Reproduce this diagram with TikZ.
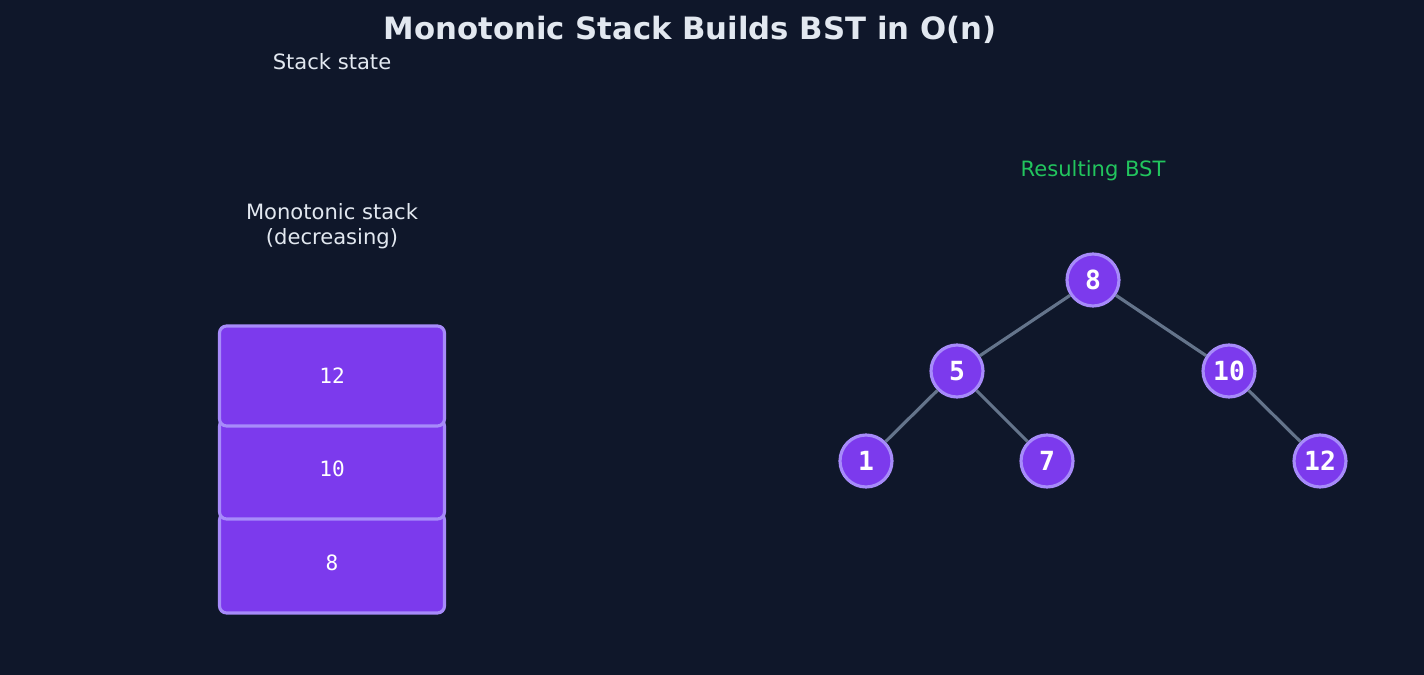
\documentclass[tikz,border=0pt]{standalone}
\usepackage{fontspec}
\setmainfont{DejaVu Sans}
\setmonofont{DejaVu Sans Mono}
\begin{document}
\definecolor{bg}{HTML}{0F172A}
\definecolor{txt}{HTML}{E2E8F0}
\definecolor{pur}{HTML}{7C3AED}
\definecolor{lpur}{HTML}{A78BFA}
\definecolor{edge}{HTML}{64748B}
\definecolor{grn}{HTML}{22C55E}
\begin{tikzpicture}[x=0.02cm,y=-0.02cm,
  box/.style={draw=lpur,fill=pur,line width=1.8pt,rounded corners=4pt,minimum width=4.5cm,minimum height=2.0cm,text=white,font=\ttfamily\fontsize{12}{14}\selectfont},
  tn/.style={circle,draw=lpur,fill=pur,line width=1.8pt,minimum size=1.04cm,inner sep=0pt,text=white,font=\ttfamily\bfseries\fontsize{15}{17}\selectfont},
  ed/.style={draw=edge,line width=1.8pt},
  lbl/.style={text=txt,font=\fontsize{12}{14.5}\selectfont,align=center}]
\fill[bg] (0,0) rectangle (1424,675);
\node[text=txt,font=\bfseries\fontsize{17.5}{20}\selectfont] (title) at (690,30) {Monotonic Stack Builds BST in O(n)};
\node[lbl] (ss) at (332,62) {Stack state};
\node[lbl] (ms) at (332,226) {Monotonic stack\\(decreasing)};
\node[lbl,text=grn] (rb) at (1093,171) {Resulting BST};
\node[box] (s8) at (332,563) {8};
\node[box] (s10) at (332,469) {10};
\node[box] (s12) at (332,376) {12};
\node[tn] (n8) at (1093,280) {8};
\node[tn] (n5) at (957,371) {5};
\node[tn] (n10) at (1229,371) {10};
\node[tn] (n1) at (866,461) {1};
\node[tn] (n7) at (1047,461) {7};
\node[tn] (n12) at (1320,461) {12};
\begin{scope}[on background layer/.style={}]
\end{scope}
\draw[ed] (n8) -- (n5);
\draw[ed] (n8) -- (n10);
\draw[ed] (n5) -- (n1);
\draw[ed] (n5) -- (n7);
\draw[ed] (n10) -- (n12);
\end{tikzpicture}
\end{document}
